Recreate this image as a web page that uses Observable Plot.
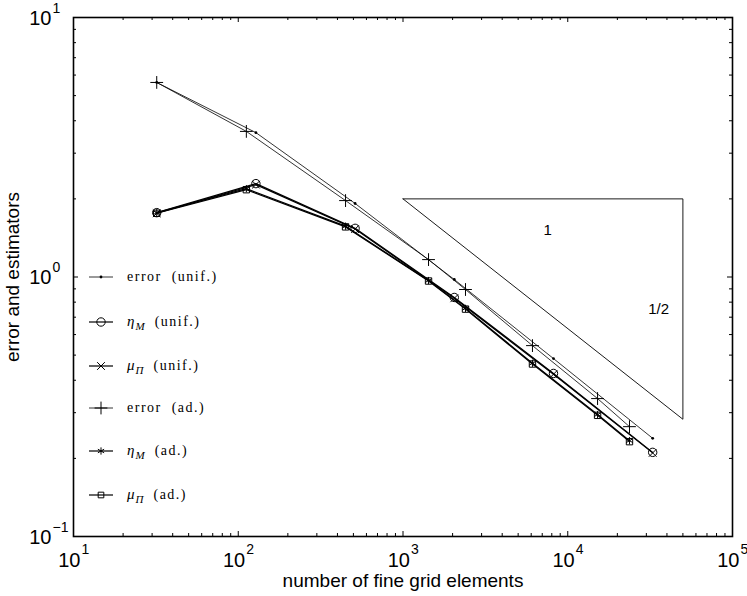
<!DOCTYPE html>
<html><head><meta charset="utf-8">
<script src="https://cdn.jsdelivr.net/npm/d3@7"></script>
<script src="https://cdn.jsdelivr.net/npm/@observablehq/plot@0.6"></script>
<style>
body{margin:0;background:#fff}
svg{font-family:"Liberation Sans",Arial,Helvetica,sans-serif;background:#fff}
</style>
</head><body><div id="chart"></div>
<script>
// ---- data ----
const nUnif = [32, 128, 512, 2048, 8192, 32768];
const nAd = [32, 112, 448, 1429, 2395, 6107, 15170, 23700];
const errUnif = [5.62, 3.60, 1.92, 0.978, 0.485, 0.239];
const etaUnif = [1.77, 2.29, 1.54, 0.834, 0.425, 0.211];
const muUnif = [1.76, 2.27, 1.53, 0.828, 0.422, 0.210];
const errAd = [5.62, 3.64, 1.97, 1.167, 0.895, 0.544, 0.340, 0.265];
const etaAd = [1.77, 2.19, 1.57, 0.969, 0.757, 0.465, 0.295, 0.234];
const muAd = [1.76, 2.17, 1.56, 0.965, 0.752, 0.462, 0.293, 0.232];
const seriesLabels = ["error (unif.)", "η_M (unif.)", "μ_Π (unif.)", "error (ad.)", "η_M (ad.)", "μ_Π (ad.)"];
const xTickValues = [1e1, 1e2, 1e3, 1e4, 1e5];
const xTickExps = ["1", "2", "3", "4", "5"];
const yTickValues = [1e-1, 1e0, 1e1];
const yTickExps = ["−1", "0", "1"];
const triangleX = [1000, 50000, 50000, 1000];
const triangleY = [2, 2, 0.283, 2];
const slopeLabels = ["1", "1/2"];
const slopeLabelX = [7540, 35600];
const slopeLabelY = [1.52, 0.75];
const xTitle = "number of fine grid elements";
const yTitle = "error and estimators";

// ---- layout ----
const W = 747, H = 596, mL = 73, mR = 15, mT = 17, mB = 60;
const iW = W - mL - mR, iH = H - mT - mB;

const toRows = (xs, ys) => xs.map((x, i) => ({x, y: ys[i]}));
const series = [
  {data: toRows(nUnif, errUnif), sw: 0.8, sym: ["dot"]},
  {data: toRows(nUnif, etaUnif), sw: 1.2, sym: ["circle"]},
  {data: toRows(nUnif, muUnif), sw: 1.2, sym: ["times"]},
  {data: toRows(nAd, errAd), sw: 0.8, sym: ["plus"]},
  {data: toRows(nAd, etaAd), sw: 1.2, sym: ["asterisk"]},
  {data: toRows(nAd, muAd), sw: 1.2, sym: ["square"]}
];
const symR = {circle: 4.2, times: 3.6, plus: 4.2, asterisk: 3.4, square: 3.6};

const minor = [];
for (let e = 1; e < 5; e++) for (let k = 2; k < 10; k++) minor.push(k * 10 ** e);
const minorY = [];
for (let e = -1; e < 1; e++) for (let k = 2; k < 10; k++) minorY.push(k * 10 ** e);

const marks = [];
const maj = 5, mn = 3;
marks.push(Plot.tickX(xTickValues, {x: d => d, insetTop: iH - maj, strokeWidth: 1}));
marks.push(Plot.tickX(xTickValues, {x: d => d, insetBottom: iH - maj, strokeWidth: 1}));
marks.push(Plot.tickX(minor, {x: d => d, insetTop: iH - mn, strokeWidth: 1}));
marks.push(Plot.tickX(minor, {x: d => d, insetBottom: iH - mn, strokeWidth: 1}));
marks.push(Plot.tickY(yTickValues, {y: d => d, insetRight: iW - maj, strokeWidth: 1}));
marks.push(Plot.tickY(yTickValues, {y: d => d, insetLeft: iW - maj, strokeWidth: 1}));
marks.push(Plot.tickY(minorY, {y: d => d, insetRight: iW - mn, strokeWidth: 1}));
marks.push(Plot.tickY(minorY, {y: d => d, insetLeft: iW - mn, strokeWidth: 1}));
marks.push(Plot.frame({stroke: "black", strokeWidth: 1.6}));

// slope triangle
marks.push(Plot.line(triangleX.map((x, i) => ({x, y: triangleY[i]})), {x: "x", y: "y", stroke: "black", strokeWidth: 0.9}));
marks.push(Plot.text(slopeLabels.map((t, i) => ({t, x: slopeLabelX[i], y: slopeLabelY[i]})), {x: "x", y: "y", text: "t", fontSize: 15, fill: "black"}));

// series
for (const s of series) {
  marks.push(Plot.line(s.data, {x: "x", y: "y", stroke: "black", strokeWidth: s.sw}));
  for (const sym of s.sym) {
    if (sym === "dot") marks.push(Plot.dot(s.data, {x: "x", y: "y", r: 1.4, fill: "black"}));
    else marks.push(Plot.dot(s.data, {x: "x", y: "y", symbol: sym, r: symR[sym], stroke: "black", fill: "none", strokeWidth: 1}));
  }
}

// tick labels
marks.push(Plot.text(xTickValues, {x: d => d, frameAnchor: "bottom", lineAnchor: "middle", dy: 24, dx: 7, textAnchor: "end", text: () => "10", fontSize: 20, fill: "black"}));
marks.push(Plot.text(xTickValues, {x: d => d, frameAnchor: "bottom", lineAnchor: "middle", dy: 13, dx: 8, textAnchor: "start", text: (d, i) => xTickExps[i], fontSize: 14, fill: "black"}));
marks.push(Plot.text(yTickValues, {y: d => d, frameAnchor: "left", lineAnchor: "middle", dy: 1, dx: -22, textAnchor: "end", text: () => "10", fontSize: 20, fill: "black"}));
marks.push(Plot.text(yTickValues, {y: d => d, frameAnchor: "left", lineAnchor: "middle", dy: -9, dx: -21, textAnchor: "start", text: (d, i) => yTickExps[i], fontSize: 14, fill: "black"}));
// titles
marks.push(Plot.text([xTitle], {frameAnchor: "bottom", lineAnchor: "middle", textAnchor: "middle", dy: 44, text: d => d, fontSize: 19, fill: "black"}));
marks.push(Plot.text([yTitle], {frameAnchor: "left", lineAnchor: "middle", textAnchor: "middle", dx: -61, rotate: -90, text: d => d, fontSize: 19, fill: "black"}));

const svg = Plot.plot({
  width: W, height: H,
  marginLeft: mL, marginRight: mR, marginTop: mT, marginBottom: mB,
  x: {type: "log", domain: [10, 1e5], axis: null},
  y: {type: "log", domain: [0.1, 10], axis: null},
  style: {background: "#fff", overflow: "visible"},
  marks
});

// legend (drawn into the same svg)
const lg = d3.select(svg).append("g").attr("class", "legend").attr("text-anchor", "start");
const rowY = [277, 322, 366, 408, 451, 495];
const symMap = {circle: d3.symbolCircle, times: d3.symbolTimes, plus: d3.symbolPlus, asterisk: d3.symbolAsterisk, square: d3.symbolSquare2};
series.forEach((s, i) => {
  const y = rowY[i];
  lg.append("line").attr("x1", 89).attr("x2", 113).attr("y1", y).attr("y2", y).attr("stroke", "black").attr("stroke-width", s.sw);
  for (const sym of s.sym) {
    if (sym === "dot") lg.append("circle").attr("cx", 101).attr("cy", y).attr("r", 1.4).attr("fill", "black");
    else lg.append("path").attr("transform", `translate(101,${y})`)
      .attr("d", d3.symbol(symMap[sym], Math.PI * symR[sym] ** 2)())
      .attr("fill", "none").attr("stroke", "black").attr("stroke-width", 1);
  }
  const label = seriesLabels[i];
  const t = lg.append("text").attr("x", 127).attr("y", y + 4).attr("text-anchor", "start")
    .attr("font-family", "'Liberation Serif','DejaVu Serif',serif").attr("font-size", 14)
    .attr("fill", "black").style("white-space", "pre");
  if (label.includes("_")) {
    const [sym, rest] = label.split("_");
    const sub = rest.split(" ")[0];
    const tail = rest.slice(sub.length);
    t.append("tspan").attr("font-style", "italic").attr("font-size", 15).text(sym);
    t.append("tspan").attr("font-style", "italic").attr("font-size", 11).attr("dy", 4).attr("dx", 1).text(sub);
    t.append("tspan").attr("dy", -4).attr("letter-spacing", 1.5).text("  " + tail.trim());
  } else {
    const parts = label.split(" ");
    t.attr("letter-spacing", 1.5).text(parts[0] + "  " + parts.slice(1).join(" "));
  }
});

document.getElementById("chart").appendChild(svg);
</script>
</body></html>
